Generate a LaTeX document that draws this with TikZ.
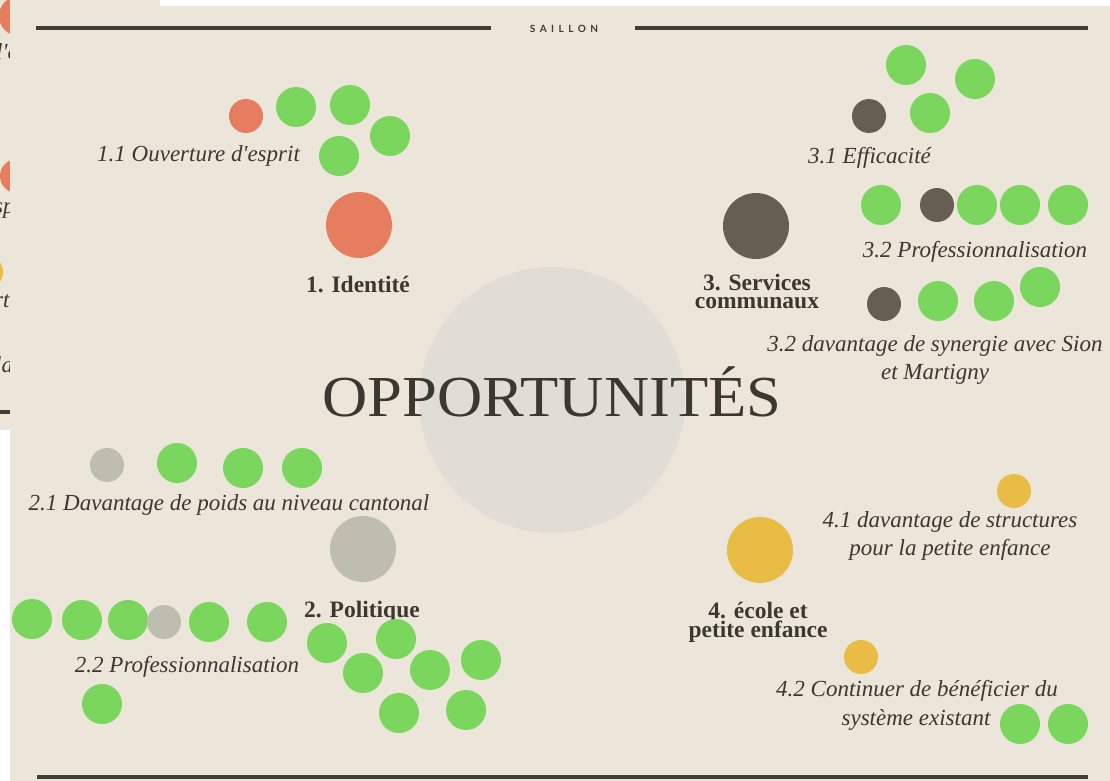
\documentclass[tikz,border=0pt]{standalone}
\usepackage{fontspec}
\setmainfont{Liberation Serif}
\newfontfamily\villefont[LetterSpace=45]{Lato}
\usetikzlibrary{positioning}
\definecolor{fond}{HTML}{EBE5DA}
\definecolor{centre}{HTML}{E0DDD7}
\definecolor{vert}{HTML}{7AD65C}
\definecolor{corail}{HTML}{E57D5E}
\definecolor{brun}{HTML}{665E52}
\definecolor{gris}{HTML}{BDBDB0}
\definecolor{jaune}{HTML}{E8BC45}
\definecolor{encre}{HTML}{3B382F}
\definecolor{trait}{HTML}{3F3E34}
\tikzset{
  pt/.style={circle,inner sep=0pt,minimum size=40pt,fill=vert},
  spt/.style={circle,inner sep=0pt,minimum size=34pt},
  gpt/.style={circle,inner sep=0pt,minimum size=66pt},
  sous/.style={font=\fontsize{23}{27}\itshape\selectfont,text=encre,inner sep=0pt,anchor=base},
  tit/.style={font=\fontsize{23.5}{19}\bfseries\selectfont,text=encre,inner sep=0pt,anchor=base},
  filet/.style={draw=trait,line width=4pt}
}

\begin{document}
\begin{tikzpicture}[x=1pt,y=-1pt]
\useasboundingbox (0,0) rectangle (1110,781);
\fill[white] (0,0) rectangle (1110,781);
% page de derriere
\fill[fond] (0,0) rectangle (160,430);
\begin{scope}
\clip (0,0) rectangle (10,430);
\node[spt,minimum size=40pt,fill=corail] (b1) at (19,16) {};
\node[sous,anchor=base west] (b2) at (-4,60) {l\textquotesingle e};
\node[spt,fill=corail] (b3) at (17,176) {};
\node[sous,anchor=base west] (b4) at (-6,213) {sp};
\node[spt,fill=jaune] (b5) at (-14,272) {};
\node[sous,anchor=base west] (b6) at (-6,307) {rt};
\node[sous,anchor=base west] (b7) at (-5,372) {la};
\draw[filet] (0,412) -- (10,412);
\end{scope}
% page principale
\fill[fond] (10,6) rectangle (1110,781);
\node[font=\villefont\bfseries\fontsize{10}{12}\selectfont,text=trait,inner sep=0pt,anchor=base] (ville) at (564,33) {SAILLON};
\coordinate (h1) at (36,28);
\coordinate (h2) at (1088,28);
\draw[filet] (h1) -- (491,28);
\draw[filet] (635,28) -- (h2);
\draw[filet] (37,777) -- (1088,777);
\node[circle,inner sep=0pt,minimum size=266pt,fill=centre] (c) at (552,400) {};
\node[font=\fontsize{58}{58}\selectfont,text=encre,inner sep=0pt,anchor=base] (titre) at (552,416) {\scalebox{1.08}[1]{OPPORTUNITÉS}};
% 1. Identite
\node[gpt,fill=corail] (i) at (359,225) {};
\node[tit] (ti) at (358,292) {1. Identité};
\node[spt,fill=corail] (i1) at (246,116) {};
\node[pt] (i2) at (296,107) {};
\node[pt] (i3) at (350,105) {};
\node[pt] (i4) at (390,136) {};
\node[pt] (i5) at (339,156) {};
\node[sous,anchor=base west] (ti1) at (97,161) {1.1 Ouverture d\textquotesingle esprit};
% 3. Services communaux
\node[gpt,fill=brun] (s) at (756,226) {};
\node[tit] (ts) at (757,290) {3. Services};
\node[tit] (ts') at (757,308) {communaux};
\node[pt] (s1) at (906,65) {};
\node[pt] (s2) at (975,79) {};
\node[spt,fill=brun] (s3) at (869,116) {};
\node[pt] (s4) at (930,113) {};
\node[sous,anchor=base west] (ts1) at (808,163) {3.1 Efficacité};
\node[pt] (s5) at (881,205) {};
\node[spt,fill=brun] (s6) at (937,205) {};
\node[pt] (s7) at (977,205) {};
\node[pt] (s8) at (1020,205) {};
\node[pt] (s9) at (1068,205) {};
\node[sous] (ts2) at (975,257) {3.2 Professionnalisation};
\node[spt,fill=brun] (s10) at (884,304) {};
\node[pt] (s11) at (938,301) {};
\node[pt] (s12) at (994,301) {};
\node[pt] (s13) at (1040,287) {};
\node[sous] (ts3) at (935,351) {3.2 davantage de synergie avec Sion};
\node[sous] (ts3') at (935,379) {et Martigny};
% 2. Politique
\node[gpt,fill=gris] (p) at (363,549) {};
\node[tit] (tp) at (362,617) {2. Politique};
\node[spt,fill=gris] (p1) at (107,465) {};
\node[pt] (p2) at (177,463) {};
\node[pt] (p3) at (243,468) {};
\node[pt] (p4) at (302,468) {};
\node[sous] (tp1) at (229,510) {2.1 Davantage de poids au niveau cantonal};
\node[pt] (p5) at (32,619) {};
\node[pt] (p6) at (82,620) {};
\node[pt] (p7) at (128,620) {};
\node[spt,fill=gris] (p8) at (164,622) {};
\node[pt] (p9) at (209,622) {};
\node[pt] (p10) at (267,622) {};
\node[sous] (tp2) at (187,672) {2.2 Professionnalisation};
\node[pt] (p11) at (102,704) {};
\node[pt] (p12) at (327,643) {};
\node[pt] (p13) at (396,639) {};
\node[pt] (p14) at (363,673) {};
\node[pt] (p15) at (430,670) {};
\node[pt] (p16) at (481,660) {};
\node[pt] (p17) at (399,713) {};
\node[pt] (p18) at (466,710) {};
% 4. ecole et petite enfance
\node[gpt,fill=jaune] (e) at (760,550) {};
\node[tit] (te) at (758,618) {4. école et};
\node[tit] (te') at (758,637) {petite enfance};
\node[spt,fill=jaune] (e1) at (1014,491) {};
\node[sous] (te1) at (950,527) {4.1 davantage de structures};
\node[sous] (te1') at (950,555) {pour la petite enfance};
\node[spt,fill=jaune] (e2) at (861,657) {};
\node[sous] (te2) at (917,696) {4.2 Continuer de bénéficier du};
\node[sous] (te2') at (916,725) {système existant};
\node[pt] (e3) at (1020,724) {};
\node[pt] (e4) at (1068,724) {};
\end{tikzpicture}
\end{document}
